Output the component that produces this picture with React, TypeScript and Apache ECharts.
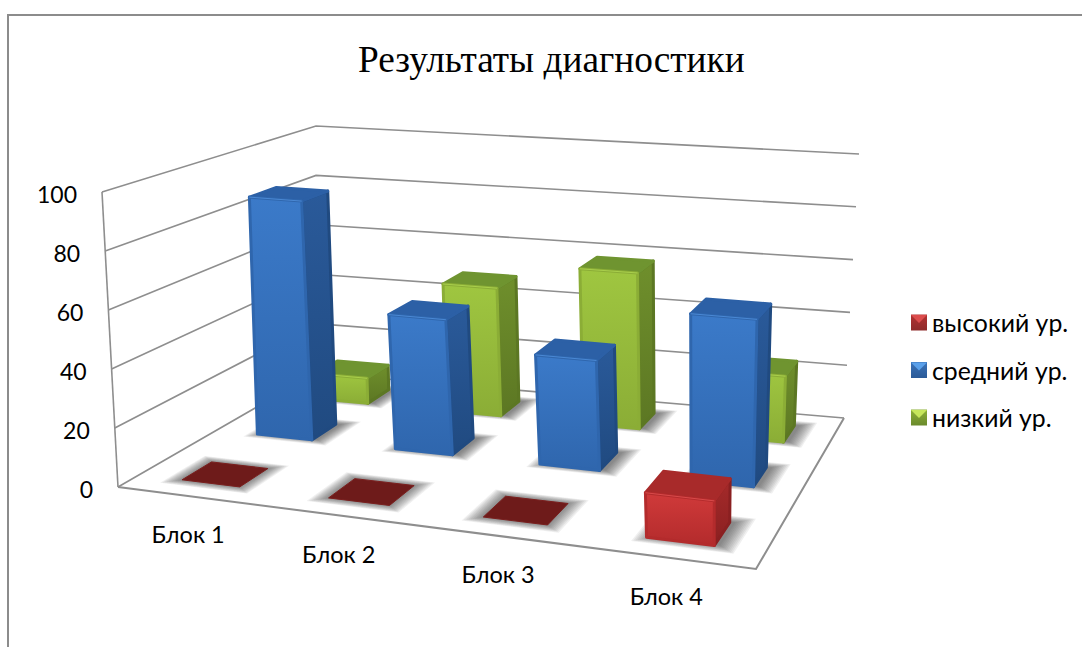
import React, { useEffect, useRef } from "react";
import * as echarts from "echarts";

const chartTitle = "Результаты диагностики";
const categories = ["Блок 1", "Блок 2", "Блок 3", "Блок 4"];
const yTicks = [0, 20, 40, 60, 80, 100];
const seriesNames = ["высокий ур.", "средний ур.", "низкий ур."];
const highLevel = [0, 0, 0, 15];
const midLevel = [90, 50, 40, 60];
const lowLevel = [10, 50, 60, 25];

const FONT = "Lato, 'Noto Sans', sans-serif";
const W = 1082, H = 647;
const GRID = { left: 118, top: 192, width: 638, height: 295 };

type Pt = [number, number];
// perspective frame of the box: front-left, front-right, back-right, back-left
const floorQuad: Pt[] = [[118, 487], [756, 569], [844, 418], [316, 373]];
const ceilQuad: Pt[] = [[102, 192], [763, 254], [859, 154], [316, 126]];

function homography(q: Pt[]) {
  const [p0, p1, p2, p3] = q;
  const dx1 = p1[0] - p2[0], dx2 = p3[0] - p2[0], sx = p0[0] - p1[0] + p2[0] - p3[0];
  const dy1 = p1[1] - p2[1], dy2 = p3[1] - p2[1], sy = p0[1] - p1[1] + p2[1] - p3[1];
  const d = dx1 * dy2 - dx2 * dy1;
  const g = (sx * dy2 - dx2 * sy) / d;
  const h = (dx1 * sy - sx * dy1) / d;
  const a = p1[0] - p0[0] + g * p1[0], b = p3[0] - p0[0] + h * p3[0], c = p0[0];
  const e = p1[1] - p0[1] + g * p1[1], f = p3[1] - p0[1] + h * p3[1], k = p0[1];
  return (u: number, z: number): Pt => {
    const w = g * u + h * z + 1;
    return [(a * u + b * z + c) / w, (e * u + f * z + k) / w];
  };
}
const floorH = homography(floorQuad);
const ceilH = homography(ceilQuad);
const PERSPECTIVE_EASE = 0.08;
function project(u0: number, z: number, v: number): Pt {
  const u = u0 + PERSPECTIVE_EASE * u0 * (1 - u0);
  const a = floorH(u, z), b = ceilH(u, z);
  return [a[0] + (b[0] - a[0]) * v, a[1] + (b[1] - a[1]) * v];
}

const uOf = (api: any, idx: number) => (api.coord([idx, 0])[0] - GRID.left) / GRID.width;
const vOf = (api: any, val: number) => (GRID.top + GRID.height - api.coord([0, val])[1]) / GRID.height;

const BAR_U = 0.25 * 0.4;
const BAR_Z = (1 / 3) * 0.4;
const BAR_HEIGHT_SCALE = 0.965;
const rowCentre = [0.5 / 3 - 0.01, 1.5 / 3 + 0.015, 2.5 / 3 + 0.005];

type Pal = { fa: string; fb: string; sa: string; sb: string; top: string; hi: string; icon: string[]; tri: string };
const palettes: Pal[] = [
  { fa: "#d03a3a", fb: "#b32b2c", sa: "#a52a2a", sb: "#8a2021", top: "#a82a2a", hi: "#d84a4a", icon: ["#b23232", "#8e2a2a"], tri: "#dc4c4c" },
  { fa: "#3b7ac9", fb: "#2f66ad", sa: "#2a5a9a", sb: "#204a80", top: "#2c60a6", hi: "#4a88d4", icon: ["#3a72b8", "#2b5a98"], tri: "#5aa0ea" },
  { fa: "#9fc640", fb: "#8bad36", sa: "#6f8f2c", sb: "#5c7723", top: "#6f9430", hi: "#a9cf4c", icon: ["#8db038", "#6a8a2c"], tri: "#c6e65c" },
];

const vGrad = (a: string, b: string) =>
  new echarts.graphic.LinearGradient(0, 0, 0, 1, [{ offset: 0, color: a }, { offset: 1, color: b }]);

const poly = (points: Pt[], fill: any, stroke?: string, lineWidth = 3): any => ({
  type: "polygon",
  shape: { points },
  style: { fill, stroke: stroke || fill, lineWidth, lineJoin: "round" },
});

const footprint = (uc: number, zc: number, v: number, k = 1): Pt[] => {
  const du = (BAR_U / 2) * k, dz = (BAR_Z / 2) * k;
  return [
    project(uc - du, zc - dz, v),
    project(uc + du, zc - dz, v),
    project(uc + du, zc + dz, v),
    project(uc - du, zc + dz, v),
  ];
};

const barItem = (row: number) => (_p: any, api: any) => {
  const pal = palettes[row];
  const uc = uOf(api, api.value(0));
  const v = vOf(api, api.value(1)) * BAR_HEIGHT_SCALE;
  const zc = rowCentre[row];
  const top = footprint(uc, zc, v);
  if (v <= 0) {
    return { type: "group", children: [poly(top, "#6e1b1a", "#7a1f1e", 1)] };
  }
  const base = footprint(uc, zc, 0);
  return {
    type: "group",
    children: [
      poly([base[1], base[2], top[2], top[1]], vGrad(pal.sa, pal.sb), pal.sb),
      poly(top, pal.top),
      poly([base[0], base[1], top[1], top[0]], vGrad(pal.fa, pal.fb), pal.fb),
      { type: "polyline", shape: { points: [top[0], top[1]] }, style: { stroke: pal.hi, lineWidth: 1, fill: "none" } },
    ],
  };
};

const SHADOW_LAYERS = [1.5, 1.45, 1.4, 1.35, 1.3, 1.25, 1.2, 1.15, 1.1, 1.05, 1];
const shadowItem = (row: number) => (_p: any, api: any) => {
  const uc = uOf(api, api.value(0));
  const zc = rowCentre[row];
  const flat = api.value(1) === 0;
  return {
    type: "group",
    children: SHADOW_LAYERS.map((k) => ({
      type: "polygon",
      shape: { points: footprint(uc, zc, 0, k).map((p) => [p[0] + (flat ? 0 : 6), p[1]] as Pt) },
      style: { fill: "rgba(60,60,60,0.075)" },
    })),
  };
};

const wallItem = (_p: any, api: any) => {
  const val = api.value(1);
  const v = vOf(api, val);
  const line = { stroke: "#8e8e8e", lineWidth: 1.6, fill: "none" };
  const children: any[] = [
    { type: "polyline", shape: { points: [project(0, 0, v), project(0, 1, v), project(1, 1, v)] }, style: line },
  ];
  if (val === 0) {
    children.push(
      { type: "polyline", shape: { points: [project(0, 0, 0), project(1, 0, 0), project(1, 1, 0)] }, style: { ...line, lineWidth: 2 } },
      { type: "polyline", shape: { points: [project(0, 0, 0), project(0, 0, 1)] }, style: line },
    );
  }
  const at = project(0, 0, v);
  children.push({
    type: "text",
    style: { text: String(val), x: at[0] - 25, y: at[1] + 1.5, fill: "#000", font: `23px ${FONT}`, align: "right", verticalAlign: "middle" },
  });
  return { type: "group", children };
};

const catLabelItem = (_p: any, api: any) => {
  const i = api.value(0);
  const at = project(uOf(api, i), 0, 0);
  return {
    type: "text",
    style: { text: categories[i], x: at[0] - 2, y: at[1] + 38, fill: "#000", font: `23.5px ${FONT}`, align: "center", verticalAlign: "middle" },
  };
};

const LEGEND_X = 911;
const LEGEND_Y = [315, 362.5, 410];

export default function App() {
  const ref = useRef<HTMLDivElement>(null);
  useEffect(() => {
    document.body.style.margin = "0";
    document.body.style.overflow = "hidden";
    const chart = echarts.init(ref.current!, undefined, { renderer: "svg" });
    const levels = [highLevel, midLevel, lowLevel];
    const idx = [2, 1, 0];
    const series: any[] = [
      {
        type: "custom", name: "__walls", silent: true, renderItem: wallItem,
        data: yTicks.map((t) => [0, t]), z: 1,
      },
      {
        type: "custom", name: "__cats", silent: true, renderItem: catLabelItem,
        data: categories.map((_c, i) => [i, 0]), z: 1,
      },
      ...idx.map((r) => ({
        type: "custom", name: "__shadow" + r, silent: true, renderItem: shadowItem(r),
        data: levels[r].map((val, i) => [i, val]), z: 2,
      })),
      ...idx.map((r) => ({
        type: "custom", name: seriesNames[r], renderItem: barItem(r),
        itemStyle: { color: vGrad(palettes[r].icon[0], palettes[r].icon[1]) },
        data: levels[r].map((val, i) => [i, val]), z: 3,
      })),
    ];
    const legendBevels = palettes.map((p, i) => ({
      type: "polygon",
      silent: true,
      z: 10,
      shape: { points: [[LEGEND_X, LEGEND_Y[i]], [LEGEND_X + 16, LEGEND_Y[i]], [LEGEND_X + 8, LEGEND_Y[i] + 8]] },
      style: { fill: p.tri },
    }));
    chart.setOption({
      animation: false,
      backgroundColor: "#ffffff",
      title: {
        text: chartTitle, left: 353, top: 36,
        textStyle: { fontFamily: "'Liberation Serif', serif", fontSize: 37.3, fontWeight: "normal", color: "#000" },
      },
      grid: GRID,
      xAxis: { type: "category", data: categories, show: false },
      yAxis: { type: "value", min: 0, max: 100, interval: 20, show: false },
      legend: {
        data: seriesNames, orient: "vertical", left: 906, top: 303, icon: "rect",
        itemWidth: 16, itemHeight: 16, itemGap: 18.5, selectedMode: false,
        textStyle: { fontFamily: FONT, fontSize: 24.8, color: "#000", lineHeight: 25, padding: [0, 0, 4, 0] },
      },
      graphic: [
        { type: "polyline", silent: true, shape: { points: [[8, H], [8, 15], [W, 15]] }, style: { stroke: "#8c8c8c", lineWidth: 2, fill: "none" } },
        ...legendBevels,
      ],
      series,
    });
    return () => chart.dispose();
  }, []);
  return <div ref={ref} style={{ width: W, height: H }} />;
}
